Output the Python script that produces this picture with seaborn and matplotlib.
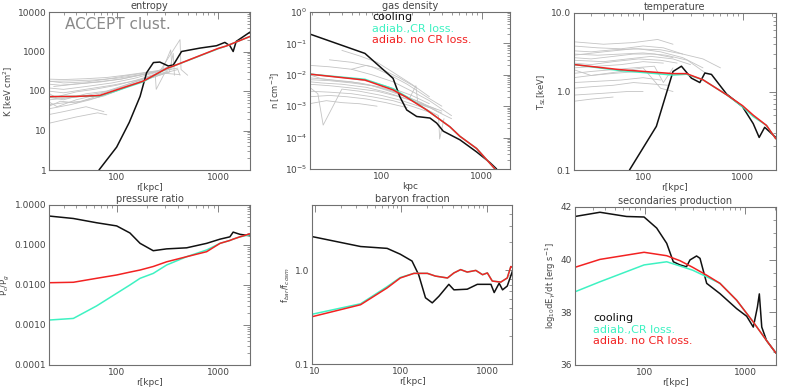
import numpy as np
import pandas as pd
import seaborn as sns
import matplotlib
matplotlib.use("Agg")
import matplotlib.pyplot as plt
from matplotlib.ticker import FixedLocator, FixedFormatter, LogLocator, NullFormatter, AutoMinorLocator

# ---------------- data ----------------
# entropy
ent_cool_r = [67, 100, 133, 170, 197, 230, 266, 322, 361, 435, 660, 960, 1160, 1300, 1400, 1500, 2050]
ent_cool_K = [1.0, 3.8, 16, 73, 290, 525, 540, 430, 455, 1000, 1220, 1400, 1700, 1400, 1000, 1800, 3100]
ent_red_r = [21, 40, 68, 100, 183, 310, 360, 1000, 1200, 2050]
ent_red_K = [72, 73, 77, 107, 178, 373, 427, 1200, 1380, 2400]
ent_cyan_r = [21, 40, 68, 100, 183, 310, 360, 1000, 1200, 2050]
ent_cyan_K = [72, 73, 75, 102, 172, 370, 425, 1180, 1380, 2400]
ent_acc_r = [
    [21, 30, 50, 80, 120, 200, 300],
    [21, 35, 60, 100, 160, 250],
    [21, 28, 45, 70, 110, 180, 280, 400],
    [21, 30, 50, 90, 150, 250, 350],
    [21, 25, 40, 60, 100, 170, 260, 420, 430, 500],
    [21, 30, 50, 80, 130, 220, 320],
    [21, 26, 40, 65, 100, 160, 240, 245, 300],
    [21, 30, 45, 75, 120, 190, 300, 420],
    [21, 35, 55, 90, 140],
    [21, 30, 50, 75],
    [21, 40, 65, 80],
    [21, 30, 55, 90, 150, 260, 400, 420],
    [22, 40, 70, 120, 200, 330, 360, 370],
    [21, 30, 50, 80, 120, 180, 250, 330],
    [21, 28, 40, 60],
    [24, 40, 70, 110, 180, 280, 340, 350],
]
ent_acc_K = [
    [200, 195, 205, 220, 250, 300, 350],
    [175, 180, 190, 210, 250, 310],
    [150, 140, 155, 175, 200, 260, 330, 380],
    [120, 110, 130, 160, 210, 300, 360],
    [90, 70, 95, 110, 140, 200, 290, 2000, 350, 250],
    [70, 60, 85, 100, 150, 230, 320],
    [55, 40, 60, 80, 115, 180, 260, 110, 300],
    [45, 50, 55, 75, 120, 190, 280, 260],
    [35, 45, 60, 90, 140],
    [25, 30, 40, 30],
    [15, 22, 28, 25],
    [100, 90, 115, 140, 180, 260, 350, 250],
    [60, 70, 90, 130, 200, 300, 900, 250],
    [180, 160, 170, 200, 240, 280, 320, 420],
    [40, 55, 50, 70],
    [130, 150, 170, 200, 260, 330, 1100, 400],
]

# gas density
den_cool_r = [19, 68, 130, 152, 178, 224, 304, 355, 413, 606, 890, 1210, 1410]
den_cool_n = [0.2, 0.048, 0.0077, 0.002, 7.6e-4, 4.7e-4, 4.2e-4, 2.9e-4, 1.6e-4, 8.5e-5, 3.5e-5, 1.6e-5, 1.0e-5]
den_red_r = [19, 68, 130, 178, 282, 482, 606, 890, 1360]
den_red_n = [0.0105, 0.0068, 0.0033, 0.0019, 7.6e-4, 2.2e-4, 1.1e-4, 4.5e-5, 1.0e-5]
den_cyan_r = [19, 68, 130, 178, 282, 482, 606, 890, 1360]
den_cyan_n = [0.0105, 0.0072, 0.0036, 0.0020, 7.6e-4, 2.2e-4, 1.1e-4, 4.5e-5, 1.0e-5]
den_acc_r = [
    [19, 30, 50, 80, 120, 200, 300],
    [19, 30, 50, 80, 130, 220, 350],
    [19, 25, 40, 70, 110, 180, 280, 400],
    [19, 30, 50, 90, 150, 250, 400],
    [19, 23, 26, 40, 60, 100, 160, 260, 370, 380, 420],
    [19, 30, 50, 80, 130, 200, 320],
    [19, 30, 45, 70, 110, 180],
    [19, 28, 40, 60, 90],
    [19, 30, 50, 80, 130, 200, 300, 500],
    [40, 60, 90, 130, 200, 300],
    [30, 50, 80, 120, 180, 280, 400],
    [19, 30, 50, 80, 120, 190, 220, 230, 300],
    [19, 25, 35, 60, 100, 150, 250, 350, 500],
    [50, 70, 100, 150, 220],
]
den_acc_n = [
    [0.011, 0.009, 0.0075, 0.006, 0.004, 0.0022, 0.0012],
    [0.008, 0.007, 0.006, 0.0045, 0.003, 0.0015, 0.0008],
    [0.006, 0.0055, 0.005, 0.004, 0.0028, 0.0017, 0.001, 0.0006],
    [0.005, 0.0045, 0.0038, 0.003, 0.002, 0.0012, 0.0007],
    [0.004, 0.0025, 0.00025, 0.0035, 0.003, 0.0022, 0.0015, 0.0009, 0.0005, 9e-5, 0.0004],
    [0.003, 0.0028, 0.0025, 0.002, 0.0015, 0.001, 0.0006],
    [0.002, 0.0022, 0.002, 0.0017, 0.0013, 0.0009],
    [0.0012, 0.0015, 0.0013, 0.0012, 0.001],
    [0.02, 0.018, 0.015, 0.01, 0.006, 0.003, 0.0015, 0.0005],
    [0.06, 0.04, 0.025, 0.012, 0.005, 0.002],
    [0.03, 0.025, 0.018, 0.01, 0.005, 0.002, 0.001],
    [0.007, 0.0065, 0.0055, 0.0045, 0.003, 0.0018, 0.0045, 0.0012, 0.0009],
    [0.01, 0.0075, 0.0065, 0.0055, 0.004, 0.0025, 0.0013, 0.0007, 0.0004],
    [0.015, 0.02, 0.015, 0.008, 0.004],
]

# temperature
tem_cool_r = [73, 136, 200, 243, 306, 372, 418, 487, 690, 1000, 1280, 1470, 1670, 2160]
tem_cool_T = [0.1, 0.36, 1.8, 2.1, 1.48, 1.3, 1.72, 1.65, 0.93, 0.64, 0.39, 0.26, 0.35, 0.26]
tem_red_r = [20.5, 58, 200, 273, 400, 690, 1000, 1280, 1740, 2160]
tem_red_T = [2.2, 1.9, 1.69, 1.69, 1.41, 0.91, 0.66, 0.5, 0.37, 0.25]
tem_cyan_r = [20.5, 58, 200, 273, 400, 690, 1000, 1280, 1740, 2160]
tem_cyan_T = [2.2, 1.85, 1.62, 1.66, 1.41, 0.91, 0.64, 0.48, 0.37, 0.25]
tem_acc_r = [
    [20, 40, 80, 140, 200],
    [20, 35, 60, 100, 160, 250],
    [20, 30, 50, 90, 150, 250, 400],
    [20, 35, 60, 100, 170, 280, 430],
    [20, 30, 50, 80, 130, 200],
    [20, 40, 70, 120, 200, 300],
    [20, 30, 50, 90, 150, 220],
    [20, 35, 60, 100, 160],
    [20, 30, 50, 80, 130, 160, 200],
    [20, 30, 50, 90, 150],
    [20, 35, 60, 100, 150],
    [20, 30, 50, 80, 120, 180],
    [20, 40, 70, 100],
    [20, 30, 50],
    [20, 40, 80, 150, 250, 400, 600],
    [20, 30, 60, 100, 150, 200],
]
tem_acc_T = [
    [4.3, 4.0, 4.2, 4.6, 4.0],
    [3.8, 3.6, 3.5, 3.8, 3.6, 3.0],
    [3.3, 3.2, 3.4, 3.5, 3.2, 2.7, 2.0],
    [3.0, 2.9, 3.0, 3.1, 2.9, 2.5, 1.7],
    [2.7, 2.6, 2.8, 3.0, 3.0, 2.7],
    [2.5, 2.4, 2.6, 2.8, 2.6, 2.2],
    [2.3, 2.2, 2.4, 2.6, 2.5, 2.3],
    [2.0, 2.1, 2.2, 2.4, 2.3],
    [1.7, 1.8, 1.9, 2.0, 2.1, 1.3, 2.0],
    [1.5, 1.6, 1.7, 1.8, 1.7],
    [1.3, 1.35, 1.4, 1.5, 1.4],
    [1.1, 1.15, 1.2, 1.3, 1.25, 1.2],
    [0.9, 0.95, 1.0, 1.0],
    [0.75, 0.8, 0.85],
    [2.9, 3.2, 3.5, 3.4, 3.0, 2.6, 2.0],
    [1.9, 1.6, 1.8, 2.0, 1.1, 1.0],
]

# pressure ratio
pr_r = [21.6, 37.5, 63.5, 100, 135, 170, 229, 310, 488, 768, 1040, 1300, 1400, 1630, 2050]
pr_cool = [0.53, 0.46, 0.36, 0.30, 0.20, 0.11, 0.072, 0.080, 0.085, 0.11, 0.14, 0.16, 0.21, 0.185, 0.17]
pr_red = [0.0114, 0.0117, 0.0147, 0.0178, 0.021, 0.0237, 0.029, 0.038, 0.051, 0.068, 0.11, 0.13, 0.14, 0.16, 0.19]
pr_cyan = [0.00133, 0.00146, 0.003, 0.0062, 0.010, 0.0147, 0.0195, 0.0316, 0.051, 0.075, 0.11, 0.13, 0.14, 0.16, 0.18]

# baryon fraction
bf_cool_r = [9.3, 34, 69, 98, 134, 160, 192, 230, 275, 358, 410, 585, 765, 1100, 1200, 1370, 1500, 1700, 1950]
bf_cool = [2.3, 1.8, 1.72, 1.49, 1.26, 0.9, 0.51, 0.45, 0.53, 0.71, 0.62, 0.63, 0.71, 0.71, 0.58, 0.73, 0.62, 0.68, 0.98]
bf_red_r = [9.3, 34, 69, 98, 141, 202, 250, 345, 410, 490, 585, 735, 880, 1000, 1140, 1430, 1700, 1870, 1950]
bf_red = [0.32, 0.43, 0.65, 0.83, 0.93, 0.93, 0.87, 0.83, 0.94, 1.02, 0.96, 1.0, 0.9, 0.94, 0.77, 0.75, 0.83, 1.1, 1.08]
bf_cyan = [0.34, 0.44, 0.67, 0.84, 0.93, 0.93, 0.87, 0.83, 0.94, 1.02, 0.96, 1.0, 0.9, 0.94, 0.77, 0.75, 0.83, 1.1, 1.08]

# secondaries production
sp_cool_r = [20, 35.5, 65.5, 98, 131, 165, 192, 224, 260, 282, 328, 355, 414, 562, 825, 1040, 1210, 1330, 1390, 1470, 1640, 2040]
sp_cool = [41.64, 41.8, 41.64, 41.62, 41.2, 40.62, 39.92, 39.8, 39.73, 39.99, 40.14, 40.05, 39.1, 38.71, 38.14, 37.85, 37.44, 38.2, 38.7, 37.44, 36.93, 36.45]
sp_red_r = [20, 35.5, 98, 165, 224, 300, 414, 562, 825, 1210, 1640, 2040]
sp_red = [39.71, 40.01, 40.28, 40.15, 39.96, 39.71, 39.41, 39.1, 38.46, 37.63, 36.93, 36.45]
sp_cyan = [38.78, 39.16, 39.8, 39.92, 39.76, 39.6, 39.35, 39.1, 38.46, 37.63, 36.93, 36.45]

legend_labels = ["cooling", "adiab.,CR loss.", "adiab. no CR loss."]

# ---------------- style ----------------
sns.set_style("white")
plt.rcParams["font.family"] = ["DejaVu Sans"]
TXT = "#444444"
FRAME = "#707070"
CYAN = "#3ef2c2"
RED = "#f22222"
BLACK = "#111111"
GRAY = "#c4c4c4"
LW = 1.1
legend_colors = [BLACK, CYAN, RED]

fig = plt.figure(figsize=(7.89, 3.88), dpi=100)
W = 789.0
H = 388.0

def mkax(x0, y0, x1, y1):
    return fig.add_axes([x0 / W, 1 - y1 / H, (x1 - x0) / W, (y1 - y0) / H])

axs = [
    mkax(49, 12, 250, 170),
    mkax(310, 12, 510, 169),
    mkax(574, 13, 776, 170),
    mkax(49, 205, 250, 365),
    mkax(312, 205, 512, 364),
    mkax(575, 207, 776, 365),
]

def line(ax, x, y, color, lw=LW):
    df = pd.DataFrame({"x": x, "y": y})
    sns.lineplot(data=df, x="x", y="y", ax=ax, color=color, lw=lw, estimator=None, sort=False)

def accept(ax, rs, vs):
    rows = []
    for i, (r, v) in enumerate(zip(rs, vs)):
        for a, b in zip(r, v):
            rows.append((i, a, b))
    df = pd.DataFrame(rows, columns=["id", "x", "y"])
    sns.lineplot(data=df, x="x", y="y", units="id", estimator=None, sort=False,
                 ax=ax, color=GRAY, lw=0.6)

def style(ax, title, xlabel, ylabel, xlim, ylim, logy=True):
    ax.set_xscale("log")
    if logy:
        ax.set_yscale("log")
    ax.set_xlim(*xlim)
    ax.set_ylim(*ylim)
    ax.set_title(title, fontsize=7, color=TXT, pad=2)
    ax.set_xlabel(xlabel, fontsize=6.5, color=TXT, labelpad=1)
    ax.set_ylabel(ylabel, fontsize=6, color=TXT, labelpad=2)
    for s in ax.spines.values():
        s.set_color(FRAME)
        s.set_linewidth(0.8)
    ax.tick_params(which="both", direction="in", top=True, right=True, colors=FRAME,
                   labelcolor=TXT, labelsize=6.5, pad=2)
    ax.tick_params(which="major", length=5, width=0.6)
    ax.tick_params(which="minor", length=2.5, width=0.5)
    ax.xaxis.set_minor_locator(LogLocator(base=10, subs=np.arange(2, 10)))
    ax.xaxis.set_minor_formatter(NullFormatter())

def xt(ax, vals, labels):
    ax.xaxis.set_major_locator(FixedLocator(vals))
    ax.xaxis.set_major_formatter(FixedFormatter(labels))

def yt(ax, vals, labels):
    ax.yaxis.set_major_locator(FixedLocator(vals))
    ax.yaxis.set_major_formatter(FixedFormatter(labels))
    if ax.get_yscale() == "log":
        ax.yaxis.set_minor_locator(LogLocator(base=10, subs=np.arange(2, 10)))
        ax.yaxis.set_minor_formatter(NullFormatter())

def legend_text(ax, x0, ytop, step):
    for i, (t, c) in enumerate(zip(legend_labels, legend_colors)):
        ax.text(x0, ytop - i * step, t, transform=ax.transAxes, fontsize=8,
                color=c, va="top", ha="left")

# entropy
ax = axs[0]
accept(ax, ent_acc_r, ent_acc_K)
line(ax, ent_cool_r, ent_cool_K, BLACK)
line(ax, ent_cyan_r, ent_cyan_K, CYAN)
line(ax, ent_red_r, ent_red_K, RED)
style(ax, "entropy", "r[kpc]", "K [keV cm$^2$]", (21.6, 2050), (1, 10000))
xt(ax, [100, 1000], ["100", "1000"])
yt(ax, [1, 10, 100, 1000, 10000], ["1", "10", "100", "1000", "10000"])
ax.text(0.08, 0.97, "ACCEPT clust.", transform=ax.transAxes, fontsize=11,
        color="#8a8a8a", va="top", ha="left")

# gas density
ax = axs[1]
accept(ax, den_acc_r, den_acc_n)
line(ax, den_cool_r, den_cool_n, BLACK)
line(ax, den_cyan_r, den_cyan_n, CYAN)
line(ax, den_red_r, den_red_n, RED)
style(ax, "gas density", "kpc", "n [cm$^{-3}$]", (19.2, 1920), (1e-5, 1))
xt(ax, [100, 1000], ["100", "1000"])
yt(ax, [1e-5, 1e-4, 1e-3, 1e-2, 1e-1, 1],
   ["$10^{-5}$", "$10^{-4}$", "$10^{-3}$", "$10^{-2}$", "$10^{-1}$", "$10^{0}$"])
legend_text(ax, 0.31, 1.0, 0.074)

# temperature
ax = axs[2]
accept(ax, tem_acc_r, tem_acc_T)
line(ax, tem_cool_r, tem_cool_T, BLACK)
line(ax, tem_cyan_r, tem_cyan_T, CYAN)
line(ax, tem_red_r, tem_red_T, RED)
style(ax, "temperature", "r[kpc]", "T$_{SL}$[keV]", (20.2, 2170), (0.1, 10))
xt(ax, [100, 1000], ["100", "1000"])
yt(ax, [0.1, 1, 10], ["0.1", "1.0", "10.0"])

# pressure ratio
ax = axs[3]
line(ax, pr_r, pr_cool, BLACK)
line(ax, pr_r, pr_cyan, CYAN)
line(ax, pr_r, pr_red, RED)
style(ax, "pressure ratio", "r[kpc]", "P$_c$/P$_g$", (21.6, 2050), (1e-4, 1))
xt(ax, [100, 1000], ["100", "1000"])
yt(ax, [1e-4, 1e-3, 1e-2, 1e-1, 1], ["0.0001", "0.0010", "0.0100", "0.1000", "1.0000"])

# baryon fraction
ax = axs[4]
line(ax, bf_cool_r, bf_cool, BLACK)
line(ax, bf_red_r, bf_cyan, CYAN)
line(ax, bf_red_r, bf_red, RED)
style(ax, "baryon fraction", "r[kpc]", "f$_{bar}$/f$_{cosm}$", (9.3, 1930), (0.1, 5))
xt(ax, [10, 100, 1000], ["10", "100", "1000"])
yt(ax, [0.1, 1], ["0.1", "1.0"])

# secondaries production
ax = axs[5]
line(ax, sp_cool_r, sp_cool, BLACK)
line(ax, sp_red_r, sp_cyan, CYAN)
line(ax, sp_red_r, sp_red, RED)
style(ax, "secondaries production", "r[kpc]", "log$_{10}$dE$_\\gamma$/dt [erg s$^{-1}$]",
      (20, 2040), (36, 42), logy=False)
xt(ax, [100, 1000], ["100", "1000"])
ax.yaxis.set_major_locator(FixedLocator([36, 38, 40, 42]))
ax.yaxis.set_major_formatter(FixedFormatter(["36", "38", "40", "42"]))
ax.yaxis.set_minor_locator(AutoMinorLocator(4))
legend_text(ax, 0.09, 0.33, 0.074)

for ax in axs:
    leg = ax.get_legend()
    if leg is not None:
        leg.remove()

fig.savefig("out.png", dpi=100)
